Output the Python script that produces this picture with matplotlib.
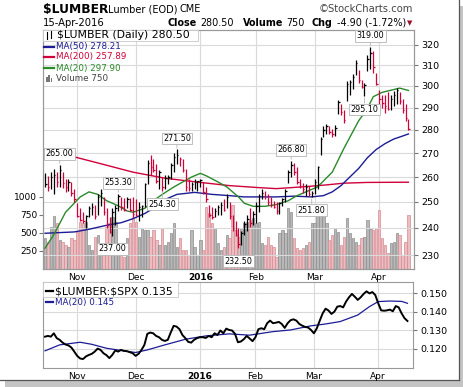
import numpy as np
import pandas as pd
import matplotlib
matplotlib.use("Agg")
import matplotlib.pyplot as plt
from matplotlib.patches import Rectangle
from matplotlib.lines import Line2D
from matplotlib.ticker import NullLocator, FixedLocator, FixedFormatter

W, H = 464, 387

# trading days shown on the chart
holidays = ["2015-11-26", "2015-12-25", "2016-01-01", "2016-01-18", "2016-02-15", "2016-03-25"]
dates = pd.bdate_range("2015-10-16", "2016-04-15", freq="C", holidays=holidays)

highs = [261.5, 260.5, 262, 263.5, 262, 265, 262, 259, 259, 258, 255,
         249.5, 247.5, 246, 245, 248.5, 249.5, 249, 253, 255, 252, 247.5, 244, 247.5, 249, 253.3,
         252, 251.5, 252, 251.5, 252,
         251, 250, 249, 257.5, 267, 269.3, 267.5, 265.5, 263, 260, 261, 261, 266, 270, 271.5,
         268.5, 267.5, 263.5, 259, 258, 259, 258.5,
         259, 258, 256, 249, 248, 247.5, 249, 250, 251, 253, 250, 245, 242.5, 240, 239, 242.5,
         245, 247.5, 246.5,
         250, 253, 255, 254.5, 253, 252, 250.5, 250, 250, 251.5, 255, 263, 266.8, 266, 264, 259,
         257.5, 257, 256.5, 254.5,
         259, 264.5, 277, 281.5, 282.5, 281.5, 280.5, 282, 293.5, 291.5, 289, 302.5, 303, 305.5,
         312.5, 307.5, 303, 301.5, 315, 319, 317, 306, 298, 296,
         296, 297, 296, 297.5, 299, 297, 294, 291.5, 285]
lows = [256, 254.5, 255, 253, 256, 256, 255.5, 254, 254.5, 252.5, 250,
        244, 242.5, 242, 240, 244, 245, 243.5, 245, 248.5, 245, 240, 238, 237, 241, 246.5,
        247, 246.5, 247.5, 246.5, 244,
        244.5, 242.5, 244, 248, 257, 261, 262, 257.5, 255, 254.3, 255, 257, 259, 262, 265.5,
        264.5, 262, 254.5, 254.5, 254.5, 255, 254.5,
        256, 253, 250, 244, 243.5, 244, 245, 245, 246.5, 247.5, 243.5, 239, 237, 232.5, 233.5, 237.5,
        239, 240.5, 241,
        242, 246, 251, 251, 249, 248, 247.5, 245.5, 245.5, 248.5, 250, 257.5, 260, 261, 257, 255.5,
        253.5, 252.5, 252.5, 251.8,
        253, 255, 269, 277, 278, 278, 277, 277.5, 287, 286.5, 283, 293, 296, 298.5,
        305, 301.5, 299, 295.1, 307, 308, 306, 300.5, 289, 290,
        287.5, 289, 289, 290.5, 291.5, 291.5, 287.5, 284, 280]
closes = [257, 256, 260, 261, 258, 263, 257.5, 256, 258, 253.5, 251,
          244.5, 243, 242.5, 244.5, 247.5, 248, 244.5, 252, 253.5, 246, 241, 238.5, 246, 247.5, 252.5,
          248, 247, 251, 247, 245.5,
          245, 248, 248.5, 257, 266, 264, 263, 258.5, 262, 256, 259.5, 260, 265, 268.5, 269,
          267.5, 263, 256, 255.5, 257, 258, 258.5,
          258.8, 254, 251, 245, 244, 246.5, 248, 249, 247, 252, 244.5, 240, 237.5, 234, 238, 241.5,
          243.5, 242, 245.5,
          248.5, 252.5, 253.5, 252.5, 250, 249, 248, 246.5, 249.5, 251, 254.5, 262, 265, 262, 258, 256.5,
          255, 256, 253, 253.5,
          258, 264, 276, 280, 281.5, 279, 278, 281, 292.5, 288, 284.5, 301, 302, 304.5,
          311, 303, 299.5, 300.5, 313, 316, 309, 301, 294, 292,
          290.5, 289.5, 294, 296, 298, 293, 289, 285.4, 280.5]
volume = [430, 380, 588, 740, 634, 403, 380, 333, 310, 426, 403,
          518, 657, 634, 657, 333, 264, 449, 472, 333, 287, 588, 634, 727, 657, 357,
          218, 171, 426, 634, 727,
          657, 449, 565, 542, 542, 449, 542, 403, 333, 565, 333, 380, 495, 634, 310,
          426, 264, 264, 194, 542, 310, 194,
          403, 264, 866, 773, 634, 565, 357, 264, 310, 472, 430, 889, 542, 449, 565, 634,
          657, 680, 704,
          634, 657, 357, 333, 449, 333, 310, 171, 495, 542, 495, 843, 796, 430, 287, 264,
          287, 333, 380, 634,
          634, 796, 843, 800, 634, 403, 470, 574, 519, 333, 450, 704, 495, 426,
          380, 333, 426, 449, 681, 560, 542, 565, 820, 426,
          333, 218, 356, 380, 495, 472, 194, 380, 750]

# moving averages at sample days
ma20_idx = [0, 3, 7, 12, 15, 18, 21, 25, 28, 30, 34, 37, 40, 44, 47, 50, 53, 55, 59, 62, 64, 66,
            68, 71, 75, 79, 83, 86, 90, 93, 98, 102, 107, 110, 112, 115, 118, 121, 124]
ma20_val = [232.5, 237.5, 246, 252, 254, 253, 250.5, 248.5, 246.5, 246, 247.5, 250.5, 253, 256,
            258, 260, 261.5, 260.5, 258, 256, 254, 252, 249.5, 248.3, 248.3, 249, 250.5, 252.5,
            254.5, 256, 262, 272, 284, 289.5, 295, 297, 298, 299, 297.9]
ma50_idx = [0, 10, 15, 21, 26, 30, 34, 37, 40, 45, 51, 57, 63, 68, 74, 79, 85, 91, 95, 98, 101,
            104, 107, 110, 113, 116, 119, 122, 124]
ma50_val = [238, 238.5, 239.5, 241, 242, 243.5, 245.5, 247.5, 250.5, 253, 253.8, 253, 252.5, 252,
            252, 252, 252.3, 252, 252.5, 254, 256.5, 260, 263.5, 268, 271.5, 274, 276, 277.3, 278.21]
ma200_idx = [0, 8, 19, 30, 41, 53, 63, 73, 79, 84, 90, 96, 102, 110, 124]
ma200_val = [271.5, 269, 265.5, 262, 259.5, 257.8, 256.5, 255.7, 255.3, 255.7, 256.2, 256.8,
             257.5, 257.8, 257.89]

ratio = [0.1266, 0.1270, 0.1266, 0.1284, 0.1258, 0.1249, 0.1234, 0.1224, 0.1219, 0.1208, 0.1186,
         0.1163, 0.1149, 0.1146, 0.1160, 0.1168, 0.1174, 0.1186, 0.1202, 0.1195, 0.1177, 0.1167,
         0.1151, 0.1168, 0.1192, 0.1186, 0.1195, 0.1190, 0.1188, 0.1183, 0.1177,
         0.1163, 0.1174, 0.1195, 0.1222, 0.1281, 0.1288, 0.1284, 0.1270, 0.1263, 0.1249, 0.1243,
         0.1249, 0.1288, 0.1324, 0.1320, 0.1306, 0.1275, 0.1258, 0.1238, 0.1234, 0.1249, 0.1258,
         0.1263, 0.1263, 0.1259, 0.1270, 0.1263, 0.1284, 0.1275, 0.1299, 0.1284, 0.1309, 0.1302,
         0.1299, 0.1281, 0.1236, 0.1240, 0.1252, 0.1270, 0.1256, 0.1242,
         0.1263, 0.1306, 0.1311, 0.1306, 0.1338, 0.1352, 0.1338, 0.1341, 0.1345, 0.1334, 0.1313,
         0.1338, 0.1354, 0.1359, 0.1352, 0.1334, 0.1325, 0.1318, 0.1315, 0.1302,
         0.1284, 0.1311, 0.1352, 0.1391, 0.1416, 0.1406, 0.1388, 0.1400, 0.1427, 0.1430, 0.1423,
         0.1454, 0.1477, 0.1495, 0.1480, 0.1463, 0.1477, 0.1495, 0.1509, 0.1498, 0.1505, 0.1489,
         0.1445, 0.1407, 0.1405, 0.1407, 0.1411, 0.1402, 0.1430, 0.1423, 0.1391, 0.1365, 0.1350]
ratio_ma_idx = [0, 5, 12, 16, 21, 26, 31, 35, 41, 48, 55, 63, 70, 78, 84, 91, 96, 101, 107, 111,
                114, 118, 122, 124]
ratio_ma_val = [0.1190, 0.1222, 0.1236, 0.1225, 0.1204, 0.1192, 0.1181, 0.1195, 0.1222, 0.1252,
                0.1270, 0.1281, 0.1274, 0.1293, 0.1302, 0.1324, 0.1334, 0.1347, 0.1382, 0.1427,
                0.1454, 0.1457, 0.1455, 0.1445]

# labelled highs / lows
note_idx = [5, 25, 45, 84, 111, 40, 23, 66, 91, 109]
note_kind = ["H", "H", "H", "H", "H", "L", "L", "L", "L", "L"]

price_ticks = [230, 240, 250, 260, 270, 280, 290, 300, 310, 320]
vol_ticks = [250, 500, 750, 1000]
ratio_ticks = [0.120, 0.130, 0.140, 0.150]

RED = "#d0003a"
BLUE = "#1c1c96"
GREEN = "#2a8a2a"
GRID = "#dadada"

x = np.arange(len(dates))
up = np.r_[True, np.diff(closes) >= 0]
bar_col = np.where(up, "black", RED)
vol_face = np.where(up, "#b8b8b8", "#ebbcc0")
vol_edge = np.where(up, "#8c8c8c", "#d78b93")

# month ticks
new_month = np.r_[False, dates.month[1:] != dates.month[:-1]]
month_idx = x[new_month]
month_lab = ["2016" if d.month == 1 else d.strftime("%b") for d in dates[new_month]]


def fx(px):
    return px / W


def fy(py):
    return 1 - py / H


fig = plt.figure(figsize=(W / 100, H / 100), dpi=100)
fig.patch.set_facecolor("white")
# screenshot frame with shadow
fig.patches.append(Rectangle((fx(5), 0), 1, fy(6), transform=fig.transFigure,
                             fc="#c4c4c4", ec="none", zorder=-3))
fig.patches.append(Rectangle((0, fy(380)), fx(459), 1, transform=fig.transFigure,
                             fc="white", ec="none", zorder=-2))
fig.lines.append(Line2D([fx(459), fx(459)], [fy(380), 1], transform=fig.transFigure,
                        color="#555555", lw=0.9, zorder=-1))
fig.lines.append(Line2D([0, fx(459)], [fy(380), fy(380)], transform=fig.transFigure,
                        color="#555555", lw=0.9, zorder=-1))

# ---- main panel: volume underneath, price on log scale ----
axv = fig.add_axes([fx(43), fy(269), fx(414) - fx(43), fy(30) - fy(269)])
axv.bar(x, volume, width=0.8, color=vol_face, edgecolor=vol_edge, linewidth=0.5, zorder=2)
axv.set_ylim(0, 3319)
axv.set_xlim(-0.7, 125.9)
axv.set_yticks(vol_ticks)
axv.set_yticklabels([str(v) for v in vol_ticks])
axv.tick_params(axis="y", labelsize=6.5, length=3, pad=1, color="#777777")
axv.set_xticks(month_idx)
axv.set_xticklabels(month_lab)
axv.tick_params(axis="x", labelsize=6.5, length=0, pad=3)
for t in axv.get_xticklabels():
    if t.get_text() == "2016":
        t.set_fontweight("bold")
axv.grid(axis="x", color=GRID, lw=0.8)
axv.set_axisbelow(True)
for s in axv.spines.values():
    s.set_color("#999999")
    s.set_linewidth(0.8)

ax = axv.twinx()
ax.set_yscale("log")
ax.set_ylim(225.0, 327.6)
ax.yaxis.set_major_locator(FixedLocator(price_ticks))
ax.yaxis.set_major_formatter(FixedFormatter([str(p) for p in price_ticks]))
ax.yaxis.set_minor_locator(NullLocator())
ax.tick_params(axis="y", labelsize=6.8, length=3, pad=2, color="#777777")
ax.grid(axis="y", color=GRID, lw=0.8, zorder=0)
for s in ax.spines.values():
    s.set_color("#999999")
    s.set_linewidth(0.8)

ax.vlines(x, lows, highs, colors=bar_col, lw=0.9, zorder=4)
ax.hlines(closes, x, x + 0.5, colors=bar_col, lw=0.9, zorder=4)
ax.plot(ma200_idx, ma200_val, color=RED, lw=1.0, zorder=3)
ax.plot(ma50_idx, ma50_val, color=BLUE, lw=1.0, zorder=3)
ax.plot(ma20_idx, ma20_val, color=GREEN, lw=1.0, zorder=3)

for i, k in zip(note_idx, note_kind):
    v = highs[i] if k == "H" else lows[i]
    dy = 11 if k == "H" else -13
    ax.annotate(f"{v:.2f}", xy=(i, v), xytext=(0, dy), textcoords="offset pixels",
                ha="center", va="center", fontsize=5.8, zorder=6,
                bbox=dict(boxstyle="square,pad=0.18", fc="white", ec="#b4b4b4", lw=0.6),
                arrowprops=dict(arrowstyle="-", color="#b4b4b4", lw=0.6, shrinkA=0, shrinkB=1))

# main legend
fig.patches.append(Rectangle((fx(43), fy(41)), fx(198) - fx(43), fy(30) - fy(41),
                             transform=fig.transFigure, fc="white", ec="#c8c8c8", lw=0.6, zorder=5))
fig.lines.append(Line2D([fx(47), fx(47)], [fy(39), fy(32)], transform=fig.transFigure,
                        color="black", lw=0.8, zorder=6))
fig.lines.append(Line2D([fx(51), fx(51)], [fy(38), fy(31)], transform=fig.transFigure,
                        color="black", lw=0.8, zorder=6))
fig.text(fx(57), fy(35.5), "$LUMBER (Daily) 280.50", fontsize=7.8, va="center", zorder=7)
legend_rows = [(47, "MA(50) 278.21", BLUE), (57, "MA(200) 257.89", RED), (68, "MA(20) 297.90", GREEN)]
for yy, txt, c in legend_rows:
    fig.lines.append(Line2D([fx(44), fx(54)], [fy(yy), fy(yy)], transform=fig.transFigure,
                            color=c, lw=1.6, zorder=6))
    fig.text(fx(56), fy(yy), txt, fontsize=6.3, color=c, va="center", zorder=7)
for j, hh in enumerate([5, 7, 4]):
    fig.patches.append(Rectangle((fx(46 + 2.3 * j), fy(82)), fx(1.7), hh / H,
                                 transform=fig.transFigure, fc="#777777", ec="none", zorder=6))
fig.text(fx(56), fy(78.5), "Volume 750", fontsize=6.3, color="#444444", va="center", zorder=7)

# ---- ratio panel ----
axr = fig.add_axes([fx(43), fy(368), fx(413) - fx(43), fy(282) - fy(368)])
axr.plot(x, ratio, color="black", lw=1.4, zorder=3)
axr.plot(ratio_ma_idx, ratio_ma_val, color=BLUE, lw=0.9, zorder=2)
axr.set_xlim(-0.7, 125.9)
axr.set_ylim(0.1098, 0.1559)
axr.yaxis.tick_right()
axr.set_yticks(ratio_ticks)
axr.set_yticklabels([f"{v:.3f}" for v in ratio_ticks])
axr.tick_params(axis="y", labelsize=6.8, length=3, pad=2, color="#777777")
axr.set_xticks(month_idx)
axr.set_xticklabels(month_lab)
axr.tick_params(axis="x", labelsize=6.5, length=0, pad=3)
for t in axr.get_xticklabels():
    if t.get_text() == "2016":
        t.set_fontweight("bold")
axr.grid(color=GRID, lw=0.8)
axr.set_axisbelow(True)
for s in axr.spines.values():
    s.set_color("#999999")
    s.set_linewidth(0.8)

fig.patches.append(Rectangle((fx(43), fy(297)), fx(178) - fx(43), fy(282) - fy(297),
                             transform=fig.transFigure, fc="white", ec="#c8c8c8", lw=0.6, zorder=5))
fig.lines.append(Line2D([fx(46), fx(53)], [fy(291), fy(291)], transform=fig.transFigure,
                        color="black", lw=1.6, zorder=6))
fig.text(fx(55), fy(291), "\\$LUMBER:\\$SPX 0.135", fontsize=7.8, va="center", zorder=7)
fig.lines.append(Line2D([fx(46), fx(53)], [fy(302), fy(302)], transform=fig.transFigure,
                        color=BLUE, lw=1.6, zorder=6))
fig.text(fx(55), fy(302), "MA(20) 0.145", fontsize=6.3, color=BLUE, va="center", zorder=7)

# ---- header ----
fig.text(fx(43), fy(9), "$LUMBER", fontsize=8.8, fontweight="bold", va="center")
fig.text(fx(108), fy(9.5), "Lumber (EOD)", fontsize=7, va="center")
fig.text(fx(180), fy(9.5), "CME", fontsize=7, va="center")
fig.text(fx(413), fy(9.5), "\u00a9StockCharts.com", fontsize=7.2, color="#444444",
         va="center", ha="right")
fig.text(fx(43), fy(22.5), "15-Apr-2016", fontsize=7.2, va="center")
header_parts = [(168, "Close", "bold"), (200, "280.50", "normal"), (243, "Volume", "bold"),
                (286, "750", "normal"), (312, "Chg", "bold"), (337, "-4.90 (-1.72%)", "normal")]
for px_, txt, fw in header_parts:
    fig.text(fx(px_), fy(22.5), txt, fontsize=6.9, fontweight=fw, va="center")
fig.text(fx(410), fy(23), "\u25bc", fontsize=5, color="#a0102a", va="center", ha="center")

fig.savefig("out.png", dpi=100)
